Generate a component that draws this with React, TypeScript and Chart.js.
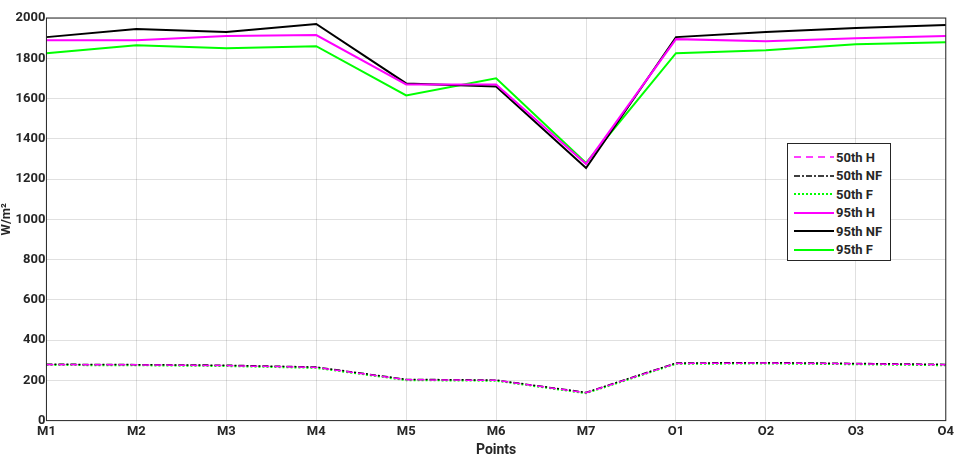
import { useEffect, useRef } from "react"
import { Chart, registerables } from "chart.js"

Chart.register(...registerables)

const points = ["M1", "M2", "M3", "M4", "M5", "M6", "M7", "O1", "O2", "O3", "O4"]
const p50H = [278, 277, 273, 264, 203, 200, 138, 284, 286, 282, 277]
const p50NF = [280, 278, 275, 266, 205, 201, 140, 286, 288, 284, 279]
const p50F = [276, 275, 271, 262, 201, 198, 136, 282, 284, 280, 275]
const p95H = [1890, 1890, 1910, 1915, 1670, 1670, 1275, 1895, 1885, 1900, 1910]
const p95NF = [1905, 1945, 1930, 1970, 1675, 1660, 1255, 1905, 1930, 1950, 1965]
const p95F = [1825, 1865, 1850, 1860, 1615, 1700, 1280, 1825, 1840, 1870, 1880]
const yTicks = [0, 200, 400, 600, 800, 1000, 1200, 1400, 1600, 1800, 2000]

const series = [
  { label: "50th H", data: p50H, color: "#ff00ff", dash: [7, 5], width: 1.5 },
  { label: "50th NF", data: p50NF, color: "#000000", dash: [6, 2, 2, 2], width: 1.5 },
  { label: "50th F", data: p50F, color: "#00ff00", dash: [2, 2], width: 2 },
  { label: "95th H", data: p95H, color: "#ff00ff", dash: [], width: 2 },
  { label: "95th NF", data: p95NF, color: "#000000", dash: [], width: 2 },
  { label: "95th F", data: p95F, color: "#00ff00", dash: [], width: 2 },
]

const frame = {
  id: "frame",
  afterDraw(chart: any) {
    const { ctx, chartArea: a } = chart
    ctx.save()
    ctx.strokeStyle = "#262626"
    ctx.lineWidth = 1
    ctx.strokeRect(a.left, a.top, a.right - a.left, a.bottom - a.top)
    ctx.restore()
  },
}

const family = "Roboto, sans-serif"

export default function App() {
  const canvasRef = useRef<HTMLCanvasElement>(null)
  const chartRef = useRef<Chart | null>(null)

  useEffect(() => {
    document.body.style.margin = "0"
    if (!canvasRef.current) return
    if (chartRef.current) chartRef.current.destroy()
    const ctx = canvasRef.current.getContext("2d")
    if (!ctx) return
    const font = { family, weight: "bold" as const, size: 13 }

    chartRef.current = new Chart(ctx, {
      type: "line",
      data: {
        labels: points,
        datasets: series.map((s) => ({
          label: s.label,
          data: s.data,
          borderColor: s.color,
          borderDash: s.dash,
          borderWidth: s.width,
          pointRadius: 0,
          tension: 0,
          fill: false,
        })),
      },
      plugins: [frame],
      options: {
        animation: false,
        responsive: true,
        maintainAspectRatio: false,
        layout: { padding: { top: 18, right: -12, left: -1, bottom: 0 } },
        plugins: { legend: { display: false }, tooltip: { enabled: false } },
        scales: {
          x: {
            offset: false,
            grid: { color: "rgba(0,0,0,0.12)", tickLength: 0 },
            border: { display: false },
            ticks: { color: "#262626", font, padding: 3, maxRotation: 0, autoSkip: false },
            title: { display: true, text: "Points", color: "#262626", font: { ...font, size: 14 }, padding: 0 },
          },
          y: {
            min: 0,
            max: 2000,
            afterBuildTicks: (axis: any) => {
              axis.ticks = yTicks.map((v) => ({ value: v }))
            },
            grid: { color: "rgba(0,0,0,0.12)", tickLength: 0 },
            border: { display: false },
            ticks: { color: "#262626", font, padding: 1, callback: (v: any) => String(v) },
            title: { display: true, text: "W/m²", color: "#262626", font, padding: 0 },
          },
        },
      },
    })

    return () => {
      if (chartRef.current) chartRef.current.destroy()
    }
  }, [])

  return (
    <div style={{ position: "relative", width: 957, height: 459, background: "#fff", overflow: "hidden" }}>
      <canvas ref={canvasRef}></canvas>
      <div
        style={{
          position: "absolute",
          left: 787,
          top: 143,
          width: 104,
          height: 118,
          border: "1px solid #262626",
          background: "#fff",
          fontFamily: family,
          fontWeight: "bold",
          fontSize: 13,
          color: "#262626",
          padding: "4px 0 0 6px",
          boxSizing: "border-box",
        }}
      >
        {series.map((s) => (
          <div key={s.label} style={{ display: "flex", alignItems: "center", height: 18.5 }}>
            <svg width={40} height={6} style={{ marginRight: 2 }}>
              <line
                x1={0}
                y1={3}
                x2={40}
                y2={3}
                stroke={s.color}
                strokeWidth={s.width}
                strokeDasharray={s.dash.length ? s.dash.join(" ") : undefined}
              />
            </svg>
            <span>{s.label}</span>
          </div>
        ))}
      </div>
    </div>
  )
}
